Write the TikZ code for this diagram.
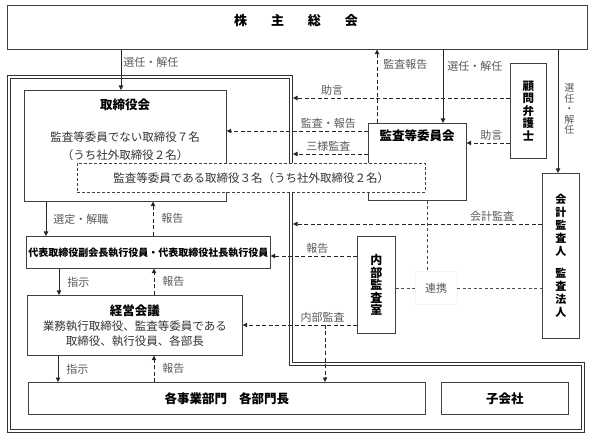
\documentclass[tikz,border=0pt]{standalone}
\usepackage{fontspec}
\newfontfamily\jp{Noto Sans CJK JP}
\usetikzlibrary{arrows.meta, positioning, calc}

\begin{document}
\begin{tikzpicture}[x=1pt, y=-1pt,
    orgbox/.style={draw=black!75, line width=0.7pt, anchor=north west, inner sep=0pt, align=center},
    title/.style={font=\jp\bfseries\fontsize{12.5}{15}\selectfont},
    body/.style={font=\jp\fontsize{11.5}{18}\selectfont, align=center, text=black!80},
    vtext/.style={font=\jp\bfseries\fontsize{11.5}{12.5}\selectfont},
    lbl/.style={text=black!65, font=\jp\fontsize{11}{13}\selectfont, inner sep=2pt},
    vlbl/.style={lbl, align=center, font=\jp\fontsize{10}{10.5}\selectfont},
    arr/.style={line width=0.8pt, black!85, -{Triangle[length=4.5pt, width=4.5pt]}},
    darr/.style={arr, dash pattern=on 4pt off 2.5pt},
    thindash/.style={line width=0.6pt, black!70, dash pattern=on 3pt off 2.5pt},
    frameline/.style={line width=0.8pt, black!80}
  ]
  \path[use as bounding box] (0,0) rectangle (594,435);

  % Nodes
  \node[orgbox, minimum width=580pt, minimum height=44pt] (soukai) at (7,5) {};
  \node[font=\jp\bfseries\fontsize{13}{15}\selectfont] (soukaiT) at (296,21) {株\hspace{24pt}主\hspace{24pt}総\hspace{24pt}会};

  \node[orgbox, minimum width=202pt, minimum height=111pt] (tori) at (24,90) {};
  \node[title] (toriT) at (125,105) {取締役会};
  \node[body] (toriB) at (125,146) {監査等委員でない取締役７名\\（うち社外取締役２名）};

  \node[orgbox, minimum width=98pt, minimum height=77pt] (kansa) at (368,123) {};
  \node[title] (kansaT) at (417,136) {監査等委員会};

  \node[orgbox, dashed, dash pattern=on 3pt off 2pt, line width=0.6pt, fill=white, minimum width=348pt, minimum height=29pt, body] (kansaD) at (77,163) {監査等委員である取締役３名（うち社外取締役２名）};

  \node[orgbox, vtext, minimum width=36pt, minimum height=95pt] (komon) at (510,63) {顧\\問\\弁\\護\\士};
  \node[orgbox, font=\jp\bfseries\fontsize{11}{13}\selectfont, minimum width=37pt, minimum height=165pt] (kaikei) at (542,173) {会\\計\\監\\査\\人\\[9pt]監\\査\\法\\人};
  \node[orgbox, minimum width=244pt, minimum height=32pt, font=\jp\bfseries\fontsize{10}{12}\selectfont] (daihyo) at (26,236) {代表取締役副会長執行役員・代表取締役社長執行役員};
  \node[orgbox, vtext, font=\jp\bfseries\fontsize{12}{12.5}\selectfont, minimum width=38pt, minimum height=97pt] (naibu) at (357,236) {内\\部\\監\\査\\室};
  \node[orgbox, body, font=\jp\fontsize{11.5}{15}\selectfont, minimum width=215pt, minimum height=60pt] (keiei) at (27,295) {{\bfseries\color{black}\fontsize{12.5}{15}\selectfont 経営会議}\\業務執行取締役、監査等委員である\\取締役、執行役員、各部長};
  \node[orgbox, title, minimum width=397pt, minimum height=32pt] (jigyo) at (28,382) {各事業部門\hspace{12pt}各部門長};
  \node[orgbox, title, minimum width=127pt, minimum height=32pt] (kogaisha) at (441,382) {子会社};

  \node[lbl, fill=white, draw=black!4, minimum width=42pt, minimum height=33pt] (renkei) at (436,288) {連携};

  % Arrows
  \coordinate (fr) at (293,0);
  \draw[arr] (soukai.south -| 121,0) -- node[lbl, right, pos=0.32] {選任・解任} (tori.north -| 121,0);
  \draw[arr] (soukai.south -| 443,0) -- node[lbl, right=2pt, pos=0.23] {選任・解任} (kansa.north -| 443,0);
  \draw[arr] (soukai.south -| 558,0) -- node[vlbl, right=4pt, pos=0.48] {選\\任\\・\\解\\任} (kaikei.north -| 558,0);
  \draw[darr] (kansa.north -| 377,0) -- node[lbl, right=4pt, pos=0.8] {監査報告} (soukai.south -| 377,0);

  \draw[darr] (komon.west |- 0,98) -- node[lbl, above, pos=0.82] {助言} (fr |- 0,98);
  \draw[darr] (kansa.west |- 0,131) -- node[lbl, above, pos=0.28] {監査・報告} (tori.east |- 0,131);
  \draw[darr] (kansa.west |- 0,154) -- node[lbl, above, pos=0.53] {三様監査} (fr |- 0,154);
  \draw[darr] (komon.west |- 0,143) -- node[lbl, above, pos=0.43] {助言} (kansa.east |- 0,143);
  \draw[darr] (kaikei.west |- 0,224) -- node[lbl, above, pos=0.2] {会計監査} (fr |- 0,224);
  \draw[darr] (naibu.west |- 0,256) -- node[lbl, above, pos=0.46] {報告} (daihyo.east |- 0,256);
  \draw[darr] (naibu.west |- 0,325) -- node[lbl, above, pos=0.3] {内部監査} (keiei.east |- 0,325);
  \coordinate (bunki) at (325,325);
  \draw[darr] (bunki) -- (jigyo.north -| bunki);

  \draw[thindash] (naibu.east |- renkei) -- (renkei);
  \draw[thindash] (renkei) -- (kaikei.west |- renkei);
  \draw[thindash] (kansa.south -| 427,0) -- (renkei.north -| 427,0);

  \draw[arr] (tori.south -| 46,0) -- node[lbl, right=5pt] {選定・解職} (daihyo.north -| 46,0);
  \draw[darr] (daihyo.north -| 153,0) -- node[lbl, right=6pt] {報告} (tori.south -| 153,0);
  \draw[arr] (daihyo.south -| 59,0) -- node[lbl, right=6pt] {指示} (keiei.north -| 59,0);
  \draw[darr] (keiei.north -| 154,0) -- node[lbl, right=6pt] {報告} (daihyo.south -| 154,0);
  \draw[arr] (keiei.south -| 58,0) -- node[lbl, right=6pt] {指示} (jigyo.north -| 58,0);
  \draw[darr] (jigyo.north -| 154,0) -- node[lbl, right=6pt] {報告} (keiei.south -| 154,0);

  % Frame (double line, broken where the dashed box lies on it)
  \draw[frameline] (292.3,192) -- (292.3,362.7) -- (584.3,362.7) -- (584.3,432.3) -- (7.7,432.3) -- (7.7,75.7) -- (292.3,75.7) -- (292.3,163);
  \draw[frameline] (289.7,192) -- (289.7,365.3) -- (581.7,365.3) -- (581.7,429.7) -- (10.3,429.7) -- (10.3,78.3) -- (289.7,78.3) -- (289.7,163);
\end{tikzpicture}
\end{document}
